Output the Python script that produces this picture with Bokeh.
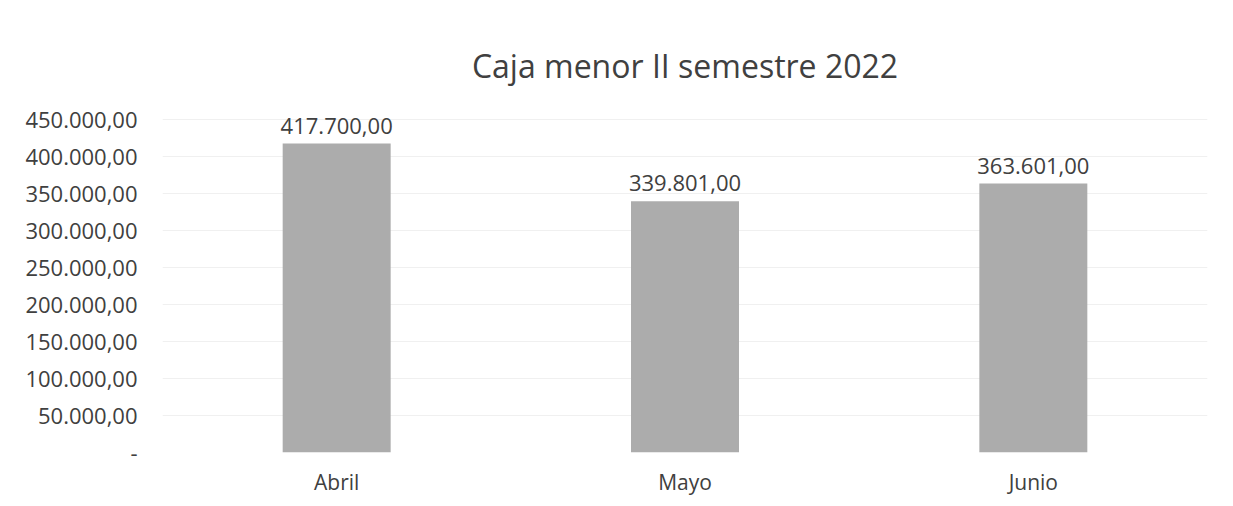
from bokeh.plotting import figure
from bokeh.models import FixedTicker, ColumnDataSource, Range1d
from bokeh.core.properties import value
from bokeh.embed import file_html
from bokeh.resources import INLINE

months = ["Abril", "Mayo", "Junio"]
amounts = [417700.00, 339801.00, 363601.00]
amount_labels = ["417.700,00", "339.801,00", "363.601,00"]
y_ticks = [0, 50000, 100000, 150000, 200000, 250000, 300000, 350000, 400000, 450000]
y_tick_labels = ["-", "50.000,00", "100.000,00", "150.000,00", "200.000,00",
                 "250.000,00", "300.000,00", "350.000,00", "400.000,00", "450.000,00"]

FONT = "Open Sans"
TXT = "#404040"

p = figure(x_range=months, width=1217, height=498, output_backend="svg",
           toolbar_location=None, title="Caja menor II semestre 2022",
           min_border_left=162, min_border_right=10, min_border_top=97, min_border_bottom=46)
p.y_range = Range1d(0, 480000)

src = ColumnDataSource(dict(m=months, v=amounts, lab=amount_labels))
p.vbar(x="m", top="v", width=0.31, source=src, fill_color="#acacac", line_color=None)
p.text(x="m", y="v", text="lab", source=src, text_align="center", text_baseline="bottom",
       y_offset=-10, text_font=value(FONT), text_font_size="22px", text_color=TXT)

p.title.align = "center"
p.title.text_font = FONT
p.title.text_font_size = "32px"
p.title.text_font_style = "normal"
p.title.text_color = TXT
p.title.standoff = 21

p.yaxis.ticker = FixedTicker(ticks=y_ticks)
p.yaxis.major_label_overrides = {t: l for t, l in zip(y_ticks, y_tick_labels)}
for ax in (p.xaxis, p.yaxis):
    ax.axis_line_color = None
    ax.major_tick_line_color = None
    ax.minor_tick_line_color = None
    ax.major_label_text_font = FONT
    ax.major_label_text_font_size = "22px"
    ax.major_label_text_color = TXT
p.xaxis.major_label_text_font_size = "21px"
p.xaxis.major_label_standoff = 9
p.yaxis.major_label_standoff = 19

p.xgrid.grid_line_color = None
p.ygrid.grid_line_color = "#f0f0f0"
p.outline_line_color = None
p.background_fill_color = "white"
p.border_fill_color = "white"

open("out.html", "w").write(file_html(p, INLINE))
